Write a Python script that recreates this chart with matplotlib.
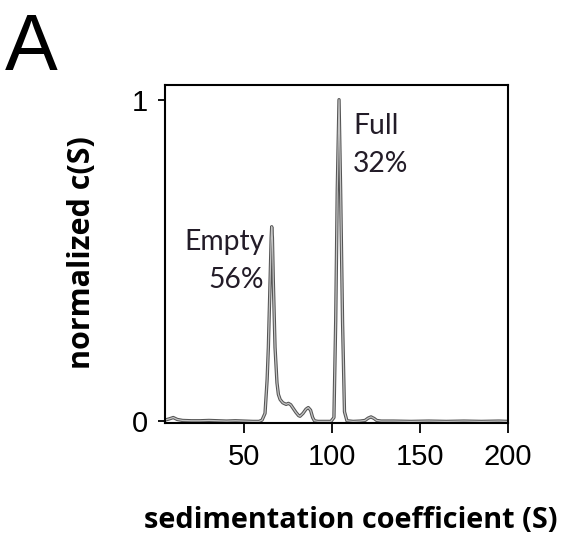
import matplotlib.pyplot as plt

# c(S) distribution, sedimentation coefficient (S) vs normalized concentration
s_values = [5.0, 7.5, 9.7, 12.0, 15.0, 20.0, 25.0, 30.0, 35.0, 40.0, 45.0, 50.0,
            55.0, 58.5, 60.2, 61.9, 63.1, 63.8, 64.8, 65.4, 65.7, 66.1, 66.6,
            67.6, 68.7, 69.5, 70.5, 72.0, 73.9, 75.2, 76.5, 78.0, 79.5, 81.0,
            81.8, 83.5, 85.2, 86.5, 87.8, 89.0, 90.0, 92.0, 95.0, 99.4, 101.1,
            102.1, 103.0, 104.0, 104.9, 106.0, 107.1, 108.5, 112.0, 116.0,
            118.8, 120.5, 122.2, 124.0, 125.4, 128.0, 135.0, 145.0, 155.0,
            165.0, 175.0, 185.0, 195.0, 200.0]
c_values = [0.004, 0.008, 0.012, 0.006, 0.003, 0.002, 0.002, 0.003, 0.002,
            0.001, 0.002, 0.001, 0.000, 0.000, 0.004, 0.025, 0.13, 0.23, 0.44,
            0.57, 0.605, 0.57, 0.44, 0.23, 0.12, 0.084, 0.068, 0.058, 0.053,
            0.056, 0.052, 0.040, 0.028, 0.018, 0.016, 0.025, 0.038, 0.043,
            0.035, 0.012, 0.002, 0.0, 0.0, 0.0, 0.012, 0.31, 0.72, 1.0, 0.72,
            0.31, 0.03, 0.002, 0.0, 0.001, 0.003, 0.010, 0.014, 0.009, 0.003,
            0.001, 0.001, 0.0, 0.001, 0.0, 0.001, 0.0, 0.001, 0.0]

x_ticks = [50, 100, 150, 200]
y_ticks = [0, 1]

# peak annotations: (lines, x, baseline y of each line, alignment)
peak_labels = [
    (["Empty", "56%"], 61.4, [0.532, 0.415], "right"),
    (["Full", "32%"], 111.9, [0.894, 0.774], "left"),
]

tick_font = ["Liberation Sans", "DejaVu Sans"]
label_font = ["Open Sans", "DejaVu Sans"]
note_font = ["Lato", "DejaVu Sans"]

fig = plt.figure(figsize=(5.83, 5.44), dpi=100)
ax = fig.add_axes([0.283, 0.2224, 0.588, 0.621])

# grey trace with darker edges
ax.plot(s_values, c_values, color="#555555", lw=2.4, solid_joinstyle="round")
ax.plot(s_values, c_values, color="#c4c4c4", lw=0.9, solid_joinstyle="round")

ax.set_xlim(5, 200)
ax.set_ylim(-0.005, 1.045)
ax.set_xticks(x_ticks)
ax.set_yticks(y_ticks)
ax.set_xticklabels([str(t) for t in x_ticks], family=tick_font, fontsize=21)
ax.set_yticklabels([str(t) for t in y_ticks], family=tick_font, fontsize=21)
ax.tick_params(axis="x", length=7.5, width=1.3, pad=7, direction="out")
ax.tick_params(axis="y", length=5, width=1.3, pad=7, direction="out")
for sp in ax.spines.values():
    sp.set_linewidth(1.5)
    sp.set_color("black")

for lines, x, ys, ha in peak_labels:
    for txt, y in zip(lines, ys):
        ax.text(x, y, txt, ha=ha, va="baseline", fontsize=20.3,
                family=note_font, color="#231c28")

fig.text(351 / 583, 1 - 520 / 544, "sedimentation coefficient (S)",
         ha="center", va="center", fontsize=20.8, fontweight="bold",
         family=label_font)
fig.text(82 / 583, 1 - 253 / 544, "normalized c(S)", rotation=90,
         ha="center", va="center", fontsize=22, fontweight="bold",
         family=label_font)
fig.text(5 / 583, 1 - 70 / 544, "A", ha="left", va="baseline", fontsize=57,
         family=["Liberation Sans", "DejaVu Sans"])

fig.savefig("out.png", dpi=100)
